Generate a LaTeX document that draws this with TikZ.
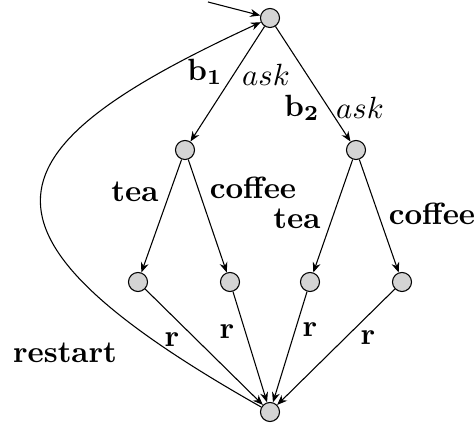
\documentclass[tikz,border=0pt]{standalone}
\usetikzlibrary{arrows.meta}
\begin{document}
\begin{tikzpicture}[x=0.3257pt,y=-0.3257pt,
  st/.style={circle,draw,fill=black!17,inner sep=0pt,minimum size=6.2pt,line width=0.35pt},
  edge/.style={-{Stealth[length=3.3pt,width=2.6pt,inset=1.1pt]},line width=0.35pt},
  lbl/.style={inner sep=0pt}]
\useasboundingbox (0,0) rectangle (475,427);
\node[st] (top) at (270,18) {};
\node[st] (b1) at (185,150) {};
\node[st] (b2) at (356,150) {};
\node[st] (l1) at (138,282) {};
\node[st] (l2) at (230,282) {};
\node[st] (l3) at (310,282) {};
\node[st] (l4) at (402,282) {};
\node[st] (bot) at (270,412) {};
\coordinate (start) at (208,2);
\draw[edge] (start) -- (top);
\draw[edge] (top) -- (b1);
\draw[edge] (top) -- (b2);
\draw[edge] (b1) -- (l1);
\draw[edge] (b1) -- (l2);
\draw[edge] (b2) -- (l3);
\draw[edge] (b2) -- (l4);
\draw[edge] (l1) -- (bot);
\draw[edge] (l2) -- (bot);
\draw[edge] (l3) -- (bot);
\draw[edge] (l4) -- (bot);
\draw[edge] (bot) .. controls (-52,230) and (-12,148) .. (top);
\node[lbl] (tb1) at (205,72) {$\mathbf{b_1}$};
\node[lbl] (ta1) at (266,75) {$ask$};
\node[lbl] (tb2) at (302,108) {$\mathbf{b_2}$};
\node[lbl] (ta2) at (360,108) {$ask$};
\node[lbl] (tt1) at (135,192) {\textbf{tea}};
\node[lbl] (tc1) at (253,188) {\textbf{coffee}};
\node[lbl] (tt2) at (297,219) {\textbf{tea}};
\node[lbl] (tc2) at (432,214) {\textbf{coffee}};
\node[lbl] (trs) at (65,353) {\textbf{restart}};
\node[lbl] (tr1) at (172,340) {$\mathbf{r}$};
\node[lbl] (tr2) at (227,332) {$\mathbf{r}$};
\node[lbl] (tr3) at (310,330) {$\mathbf{r}$};
\node[lbl] (tr4) at (368,338) {$\mathbf{r}$};
\end{tikzpicture}
\end{document}
